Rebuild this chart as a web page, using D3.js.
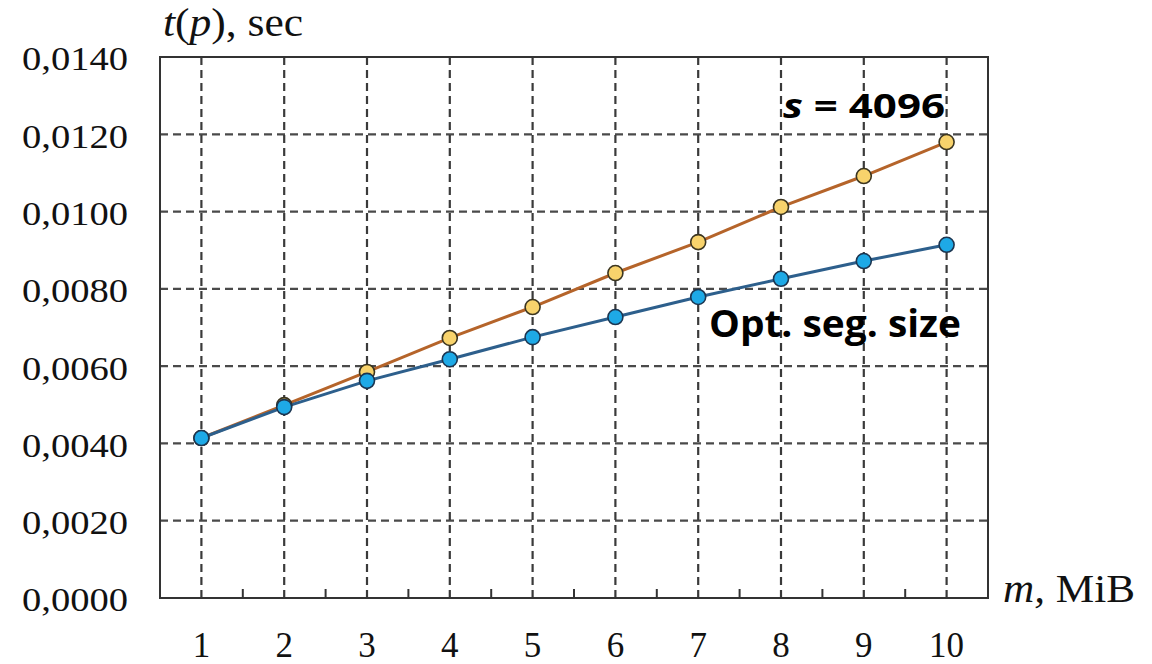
<!DOCTYPE html>
<html>
<head>
<meta charset="utf-8">
<script src="https://cdn.jsdelivr.net/npm/d3@7"></script>
<style>
  html, body { margin: 0; padding: 0; background: #fff; }
  svg { display: block; }
</style>
</head>
<body>
<svg id="chart" width="1152" height="664"></svg>
<script>
// Message size, MiB
const sizes = [1, 2, 3, 4, 5, 6, 7, 8, 9, 10];
// Transfer time with fixed segment size s = 4096, sec
const timeFixed = [0.00414, 0.00499, 0.00585, 0.00673, 0.00753, 0.00841, 0.00921, 0.01012, 0.01092, 0.0118];
// Transfer time with optimal segment size, sec
const timeOptimal = [0.00414, 0.00494, 0.00562, 0.00618, 0.00675, 0.00727, 0.00779, 0.00826, 0.00872, 0.00914];
// Y axis tick values and their labels
const yTicks = [0, 0.002, 0.004, 0.006, 0.008, 0.010, 0.012, 0.014];
const yTickLabels = ["0,0000", "0,0020", "0,0040", "0,0060", "0,0080", "0,0100", "0,0120", "0,0140"];

const svg = d3.select("#chart");
const plotLeft = 160, plotRight = 988, plotTop = 57, plotBottom = 598;

const x = d3.scaleBand().domain(sizes).range([plotLeft, plotRight]).paddingInner(0).paddingOuter(0);
const y = d3.scaleLinear().domain([0, 0.014]).range([plotBottom, plotTop]);
const cx = d => x(d) + x.bandwidth() / 2;

const serif = "'Liberation Serif', 'Times New Roman', serif";
const sans = "'Open Sans', 'Liberation Sans', sans-serif";

// Horizontal grid
svg.append("g")
  .selectAll("line")
  .data(yTicks.filter(v => v > 0 && v < 0.014))
  .join("line")
  .attr("x1", plotLeft).attr("x2", plotRight)
  .attr("y1", d => y(d)).attr("y2", d => y(d))
  .attr("stroke", "#4a4a4a").attr("stroke-width", 2.2)
  .attr("stroke-dasharray", "8,5");

// Vertical grid at each category centre
svg.append("g")
  .selectAll("line")
  .data(sizes)
  .join("line")
  .attr("x1", d => cx(d)).attr("x2", d => cx(d))
  .attr("y1", plotTop).attr("y2", plotBottom)
  .attr("stroke", "#3a3a3a").attr("stroke-width", 2.2)
  .attr("stroke-dasharray", "8,5");

// Frame
svg.append("rect")
  .attr("x", plotLeft).attr("y", plotTop)
  .attr("width", plotRight - plotLeft).attr("height", plotBottom - plotTop)
  .attr("fill", "none").attr("stroke", "#333").attr("stroke-width", 2);

// X axis: tick marks at band boundaries, labels below
const xAxis = d3.axisBottom(x).tickSize(0).tickFormat(d => d);
const xg = svg.append("g").attr("transform", `translate(0,${plotBottom})`).call(xAxis);
xg.select(".domain").remove();
xg.selectAll("text")
  .attr("y", 0).attr("dy", 0)
  .attr("transform", "translate(0,59)")
  .attr("font-family", serif).attr("font-size", 35).attr("fill", "#111");

svg.append("g")
  .selectAll("line")
  .data(sizes.slice(1))
  .join("line")
  .attr("x1", d => x(d)).attr("x2", d => x(d))
  .attr("y1", plotBottom).attr("y2", plotBottom - 9)
  .attr("stroke", "#333").attr("stroke-width", 2);

// Y axis labels
const yAxis = d3.axisLeft(y).tickValues(yTicks).tickSize(0)
  .tickFormat((d, i) => yTickLabels[i]);
const yg = svg.append("g").attr("transform", `translate(${plotLeft},0)`).call(yAxis);
yg.select(".domain").remove();
yg.selectAll("text")
  .attr("x", -32).attr("dy", "0.38em")
  .attr("font-family", serif).attr("font-size", 34).attr("fill", "#111")
  .attr("textLength", 106).attr("lengthAdjust", "spacingAndGlyphs");

// Axis titles
const yt = svg.append("text").attr("x", 163).attr("y", 36)
  .attr("font-family", serif).attr("font-size", 40).attr("fill", "#111")
  .attr("textLength", 140).attr("lengthAdjust", "spacingAndGlyphs");
yt.append("tspan").attr("font-style", "italic").text("t");
yt.append("tspan").text("(");
yt.append("tspan").attr("font-style", "italic").text("p");
yt.append("tspan").text("), sec");

const xt = svg.append("text").attr("x", 1003).attr("y", 602)
  .attr("font-family", serif).attr("font-size", 41).attr("fill", "#111")
  .attr("textLength", 132).attr("lengthAdjust", "spacingAndGlyphs");
xt.append("tspan").attr("font-style", "italic").text("m,");
xt.append("tspan").text(" MiB");

// Series
const series = [
  { values: timeFixed, line: "#b5642a", fill: "#f8d36c", edge: "#3b3520" },
  { values: timeOptimal, line: "#2d5f8c", fill: "#1ea9e6", edge: "#1c3550" }
];

const lineGen = d3.line().x((d, i) => cx(sizes[i])).y(d => y(d));

series.forEach(s => {
  svg.append("path")
    .datum(s.values)
    .attr("d", lineGen)
    .attr("fill", "none")
    .attr("stroke", s.line)
    .attr("stroke-width", 3);
});
series.forEach(s => {
  svg.append("g")
    .selectAll("circle")
    .data(s.values)
    .join("circle")
    .attr("cx", (d, i) => cx(sizes[i]))
    .attr("cy", d => y(d))
    .attr("r", 7.5)
    .attr("fill", s.fill)
    .attr("stroke", s.edge)
    .attr("stroke-width", 1.6);
});

// Series labels
const l1 = svg.append("text").attr("x", 783).attr("y", 118)
  .attr("font-family", sans).attr("font-weight", 700).attr("font-size", 34).attr("fill", "#000")
  .attr("textLength", 162).attr("lengthAdjust", "spacingAndGlyphs");
l1.append("tspan").attr("font-style", "italic").text("s");
l1.append("tspan").text(" = 4096");

svg.append("text").attr("x", 709).attr("y", 337)
  .attr("font-family", sans).attr("font-weight", 700).attr("font-size", 37).attr("fill", "#000")
  .attr("textLength", 252).attr("lengthAdjust", "spacingAndGlyphs")
  .text("Opt. seg. size");
</script>
</body>
</html>
